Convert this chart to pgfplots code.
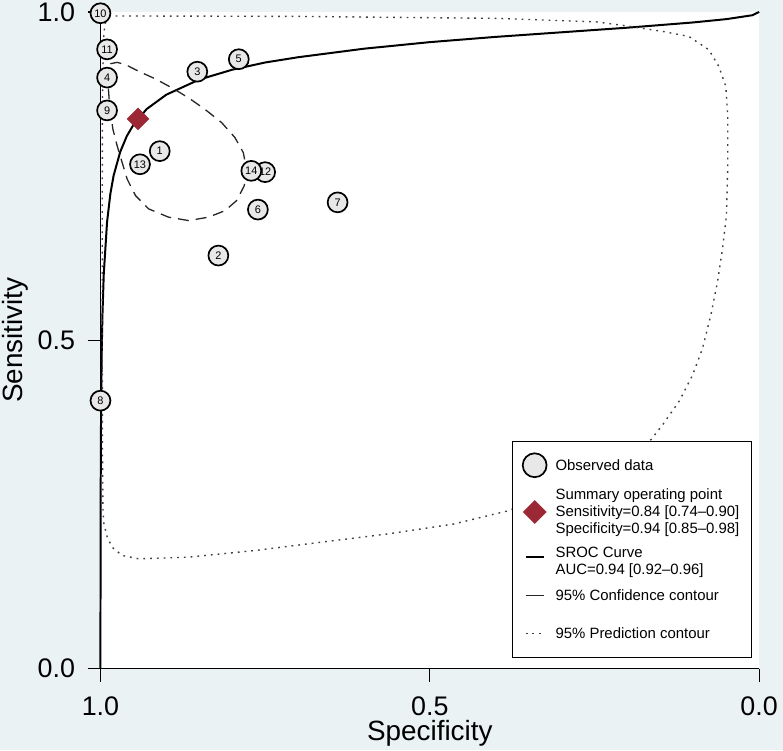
\documentclass[border=0pt]{standalone}
\usepackage{fontspec}
\setmainfont{Liberation Sans}
\usepackage{pgfplots}
\pgfplotsset{compat=1.18}
\definecolor{bgc}{RGB}{234,242,243}
\definecolor{dred}{RGB}{155,40,52}
\definecolor{ptfill}{RGB}{232,232,232}
\pgfplotsset{
 legcirc/.style={legend image code/.code={\path (0pt,0pt) (18pt,0pt);
    \draw[##1, overlay, mark size=12pt] plot coordinates {(9pt,-2pt)};}},
 legdiam/.style={legend image code/.code={\path (0pt,0pt) (18pt,0pt);
    \draw[##1, overlay] plot coordinates {(9pt,1pt)};}},
 legsroc/.style={legend image code/.code={\path (0pt,0pt) (18pt,0pt);
    \draw[##1, overlay] (0pt,-6pt) -- (18pt,-6pt);}},
 legconf/.style={legend image code/.code={\path (0pt,0pt) (18pt,0pt);
    \draw[##1, overlay, dash pattern=on 18pt off 4pt] (0pt,-3pt) -- (18pt,-3pt);}},
 legpred/.style={legend image code/.code={\path (0pt,0pt) (18pt,0pt);
    \draw[##1, overlay] (0pt,-7pt) -- (18pt,-7pt);}},
}
\begin{document}
\begin{tikzpicture}
\fill[bgc] (-101pt,-82pt) rectangle (686pt,672pt);
\useasboundingbox (-101pt,-82pt) rectangle (686pt,672pt);
\begin{axis}[
 at={(0,0)}, anchor=south west,
 scale only axis, width=662pt, height=660pt,
 xmin=0, xmax=1, ymin=0, ymax=1, x dir=reverse,
 axis x line*=bottom, axis y line*=left,
 axis line style={line width=1.4pt, -},
 axis background/.style={fill=white},
 xtick={0,0.5,1}, xticklabels={0.0,0.5,1.0},
 ytick={0,0.5,1}, yticklabels={0.0,0.5,1.0},
 tick align=outside, major tick length=13pt,
 tick style={line width=1.2pt, black},
 ticklabel style={font=\fontsize{27}{30}\selectfont},
 xticklabel style={yshift=-12pt},
 yticklabel style={xshift=-9pt},
 xlabel={Specificity}, ylabel={Sensitivity},
 label style={font=\fontsize{28}{30}\selectfont},
 xlabel style={at={(axis description cs:0.5,-0.099)}, anchor=center},
 ylabel style={at={(axis description cs:-0.130,0.5)}, anchor=center},
 clip=false,
 axis on top,
 legend cell align=left,
 legend style={at={(0.625,0.347)}, anchor=north west, draw=black, line width=1.3pt,
   fill=white, font=\fontsize{15}{17.5}\selectfont, row sep=0pt,
   inner xsep=12pt, inner ysep=10pt, nodes={inner sep=0pt, text depth=, text height=},
   /tikz/every odd column/.append style={column sep=11pt}},
]
\addplot[only marks, mark=*, mark size=10pt,
  mark options={fill=ptfill, draw=black, line width=1.7pt},
  nodes near coords, point meta=explicit symbolic,
  every node near coord/.append style={font=\fontsize{11}{11}\selectfont, anchor=center, inner sep=0pt},
  legcirc]
 table[meta=lab] {
x y lab
0.910 0.788 1
0.821 0.629 2
0.853 0.909 3
0.990 0.900 4
0.790 0.928 5
0.761 0.699 6
0.640 0.710 7
1.000 0.408 8
0.990 0.850 9
1.000 0.998 10
0.990 0.943 11
0.750 0.756 12
0.940 0.768 13
0.771 0.758 14
};
\addlegendentry{\rule[-5pt]{0pt}{24pt}Observed data}
\addlegendimage{empty legend}
\addlegendentry{\rule[-5pt]{0pt}{29pt}Summary operating point}
\addplot[only marks, mark=square*, mark size=7.8pt,
  mark options={rotate=45, fill=dred, draw=dred}, legdiam]
  coordinates {(0.943,0.837)};
\addlegendentry{\rule[-5pt]{0pt}{18pt}Sensitivity=0.84 [0.74\textendash0.90]}
\addlegendimage{empty legend}
\addlegendentry{\rule[-5pt]{0pt}{17pt}Specificity=0.94 [0.85\textendash0.98]}
\addplot[black, line width=2pt, legsroc] table {
x y
1 0
0.99999 0.065
0.9999 0.179
0.9995 0.325
0.999 0.404
0.998 0.489
0.997 0.539
0.995 0.601
0.99 0.680
0.985 0.723
0.98 0.751
0.97 0.787
0.96 0.811
0.95 0.828
0.93 0.852
0.9 0.874
0.85 0.897
0.8 0.912
0.75 0.923
0.7 0.931
0.6 0.944
0.5 0.954
0.4 0.962
0.3 0.969
0.2 0.976
0.1 0.984
0.05 0.989
0.01 0.995
0 1
};
\addlegendentry{\rule[-5pt]{0pt}{24pt}SROC Curve}
\addlegendimage{empty legend}
\addlegendentry{\rule[-5pt]{0pt}{17pt}AUC=0.94 [0.92\textendash0.96]}
\addplot[black!85, line width=1.3pt, dash pattern=on 11pt off 7pt, legconf] table {
x y
0.9846 0.9212
0.9746 0.9232
0.9619 0.9197
0.9418 0.9095
0.9166 0.8980
0.8915 0.8844
0.8663 0.8692
0.8411 0.8515
0.8160 0.8314
0.7958 0.8086
0.7832 0.7859
0.7782 0.7606
0.7817 0.7353
0.7934 0.7126
0.8109 0.6974
0.8361 0.6874
0.8663 0.6823
0.8965 0.6874
0.9267 0.7000
0.9468 0.7202
0.9595 0.7455
0.9671 0.7707
0.9746 0.7959
0.9811 0.8212
0.9861 0.8565
0.9882 0.8868
0.9882 0.9095
0.9846 0.9212
};
\addlegendentry{\rule[-5pt]{0pt}{26pt}95\% Confidence contour}
\addplot[black!75, line width=1.4pt, dash pattern=on 1.8pt off 5pt, legpred] table {
x y
0.9872 0.9939
0.7002 0.9932
0.3980 0.9902
0.2470 0.9848
0.2017 0.9788
0.1458 0.9702
0.1065 0.9626
0.0763 0.9424
0.0612 0.9171
0.0506 0.8868
0.0476 0.8414
0.0476 0.7656
0.0496 0.6898
0.0556 0.6394
0.0631 0.5894
0.0733 0.5383
0.0858 0.4879
0.1009 0.4474
0.1211 0.4076
0.1462 0.3717
0.1639 0.3489
0.2168 0.3136
0.2772 0.2833
0.3376 0.2576
0.3804 0.2405
0.4634 0.2202
0.5642 0.2050
0.6654 0.1924
0.7656 0.1798
0.8663 0.1697
0.9418 0.1671
0.9671 0.1723
0.9822 0.1848
0.9897 0.2000
0.9947 0.2202
0.9962 0.2409
0.9970 0.3364
0.9973 0.4879
0.9973 0.7152
0.9970 0.8667
0.9955 0.9576
0.9932 0.9818
0.9872 0.9939
};
\addlegendentry{\rule[-9pt]{0pt}{42pt}95\% Prediction contour}
\end{axis}
\end{tikzpicture}
\end{document}
